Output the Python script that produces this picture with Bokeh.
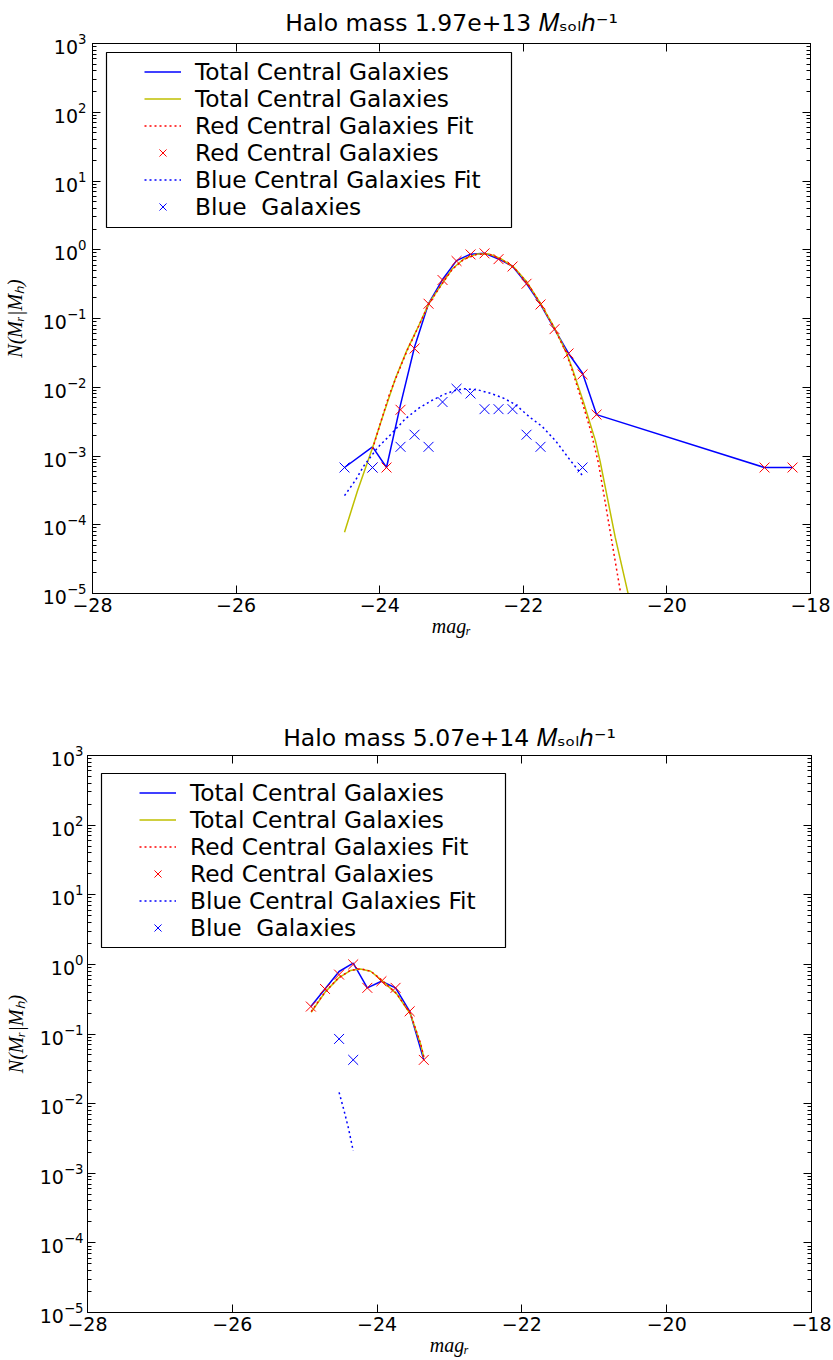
from bokeh.plotting import figure
from bokeh.models import (Range1d, LogAxis, LinearAxis, FixedTicker, Legend,
                          LegendItem, BoxAnnotation)
from bokeh.layouts import column
from bokeh.embed import file_html
from bokeh.resources import INLINE

# ---------------- shared axis ticks ----------------
x_ticks = [-28, -26, -24, -22, -20, -18]
x_tick_labels = ["\u221228", "\u221226", "\u221224", "\u221222", "\u221220", "\u221218"]
y_ticks = [1e-5, 1e-4, 1e-3, 1e-2, 1e-1, 1e0, 1e1, 1e2, 1e3]
legend_labels = ["Total Central Galaxies", "Total Central Galaxies",
                 "Red Central Galaxies Fit", "Red Central Galaxies",
                 "Blue Central Galaxies Fit", "Blue  Galaxies"]
x_label = "mag\u1d63"
y_label = "N(M\u1d63|M\u2095)"
unit_text = "\U0001D440\u209b\u2092\u2097\u210e\u207b\u00b9"

# ---------------- panel 1: halo mass 1.97e+13 ----------------
title1 = "Halo mass 1.97e+13"
tot1_x = [-24.49, -24.10, -23.905, -23.71, -23.515, -23.32, -23.125, -22.93, -22.735, -22.54,
          -22.345, -22.15, -21.955, -21.76, -21.565, -21.37, -21.175, -20.98, -18.64, -18.25]
tot1_y = [6.8e-4, 1.36e-3, 6.8e-4, 5.6e-3, 0.0385, 0.165, 0.369, 0.695, 0.863, 0.89,
          0.735, 0.575, 0.322, 0.161, 0.070, 0.031, 0.016, 0.0040, 6.8e-4, 6.8e-4]
totfit1_x = [-24.49, -24.31, -24.10, -23.94, -23.78, -23.62, -23.455, -23.315, -23.15, -22.99,
             -22.83, -22.64, -22.48, -22.32, -22.13, -21.95, -21.76, -21.575, -21.41, -21.32,
             -21.16, -20.995, -20.925, -20.83, -20.72, -20.545, -20.50]
totfit1_y = [7.8e-5, 3.1e-4, 1.32e-3, 4.3e-3, 0.0135, 0.0347, 0.079, 0.166, 0.30, 0.525,
             0.733, 0.87, 0.87, 0.75, 0.556, 0.339, 0.166, 0.0759, 0.0339, 0.019,
             6.0e-3, 1.66e-3, 7.9e-4, 2.5e-4, 6.6e-5, 1.05e-5, 6.3e-6]
redfit1_x = [-24.10, -23.99, -23.87, -23.78, -23.62, -23.455, -23.315, -23.15, -22.99, -22.83,
             -22.64, -22.48, -22.32, -22.13, -21.95, -21.76, -21.575, -21.41, -21.32, -21.16,
             -21.06, -20.95, -20.855, -20.76, -20.65, -20.62]
redfit1_y = [1.26e-3, 3.0e-3, 7.6e-3, 0.0132, 0.0339, 0.0785, 0.164, 0.299, 0.519, 0.724,
             0.861, 0.861, 0.741, 0.55, 0.335, 0.164, 0.075, 0.0331, 0.0178, 5.2e-3,
             2.3e-3, 7.6e-4, 2.0e-4, 5.2e-5, 1.1e-5, 7.6e-6]
red1_x = [-24.10, -23.905, -23.71, -23.515, -23.32, -23.125, -22.93, -22.735, -22.54, -22.345,
          -22.15, -21.955, -21.76, -21.565, -21.37, -21.175, -20.98, -18.64, -18.25]
red1_y = [6.8e-4, 6.8e-4, 4.7e-3, 0.0365, 0.164, 0.363, 0.686, 0.855, 0.885, 0.73,
          0.57, 0.32, 0.16, 0.070, 0.031, 0.0154, 0.0040, 6.8e-4, 6.8e-4]
bluefit1_x = [-24.49, -24.34, -24.22, -24.03, -23.85, -23.64, -23.45, -23.29, -23.10, -22.95,
              -22.83, -22.64, -22.46, -22.27, -22.11, -21.90, -21.74, -21.55, -21.34, -21.17]
bluefit1_y = [2.65e-4, 4.4e-4, 7.2e-4, 1.32e-3, 2.04e-3, 3.5e-3, 5.0e-3, 6.3e-3, 7.9e-3, 9.0e-3,
              9.5e-3, 9.2e-3, 8.2e-3, 6.9e-3, 5.6e-3, 3.6e-3, 2.7e-3, 1.66e-3, 8.5e-4, 5.1e-4]
blue1_x = [-24.49, -24.10, -23.71, -23.515, -23.32, -23.125, -22.93, -22.735, -22.54, -22.345,
           -22.15, -21.955, -21.76, -21.175]
blue1_y = [6.8e-4, 6.8e-4, 1.36e-3, 2.04e-3, 1.36e-3, 6.1e-3, 9.5e-3, 8.1e-3, 4.8e-3, 4.8e-3,
           4.8e-3, 2.04e-3, 1.36e-3, 6.8e-4]

# ---------------- panel 2: halo mass 5.07e+14 ----------------
title2 = "Halo mass 5.07e+14"
tot2_x = [-24.915, -24.72, -24.525, -24.33, -24.135, -23.94, -23.745, -23.55, -23.355]
tot2_y = [0.248, 0.444, 0.79, 1.04, 0.46, 0.572, 0.46, 0.212, 0.0425]
totfit2_x = [-24.91, -24.72, -24.53, -24.37, -24.23, -24.09, -23.96, -23.73, -23.54, -23.40, -23.355]
totfit2_y = [0.205, 0.397, 0.64, 0.815, 0.86, 0.796, 0.62, 0.377, 0.194, 0.072, 0.046]
redfit2_x = [-24.91, -24.72, -24.53, -24.37, -24.23, -24.09, -23.96, -23.73, -23.54, -23.40, -23.355]
redfit2_y = [0.21, 0.40, 0.645, 0.82, 0.865, 0.80, 0.625, 0.38, 0.196, 0.073, 0.047]
red2_x = [-24.915, -24.72, -24.525, -24.33, -24.135, -23.94, -23.745, -23.55, -23.355]
red2_y = [0.248, 0.444, 0.713, 1.0, 0.46, 0.572, 0.46, 0.212, 0.0425]
bluefit2_x = [-24.525, -24.46, -24.395, -24.33]
bluefit2_y = [0.0145, 0.0082, 0.0044, 0.0021]
blue2_x = [-24.525, -24.33]
blue2_y = [0.085, 0.0425]

BLUE = "#0000ff"
YELLOW = "#bfbf00"
RED = "#ff0000"


def build(title_text, frame_left_px, frame_top_px, frame_right_px, frame_bottom_px,
          fig_top_px, fig_h, legend_box, legend_top, lab_standoffs, title_standoff,
          tx, ty, fx, fy, rfx, rfy, rx, ry, bfx, bfy, bx, by):
    W = 833
    frame_h = frame_bottom_px - frame_top_px
    p = figure(width=W, height=fig_h, output_backend="svg", toolbar_location=None,
               x_range=Range1d(-28, -18), y_range=Range1d(1e-5, 1e3), y_axis_type="log",
               min_border_left=frame_left_px, min_border_right=W - frame_right_px,
               min_border_top=frame_top_px - fig_top_px,
               min_border_bottom=fig_top_px + fig_h - frame_bottom_px,
               title=title_text + " " + unit_text)
    p.title.text_font = "DejaVu Sans"
    p.title.text_font_size = "23.5px"
    p.title.text_font_style = "normal"
    p.title.text_color = "black"
    p.title.align = "center"
    p.title.standoff = title_standoff
    p.background_fill_color = "white"
    p.border_fill_color = "white"
    p.outline_line_color = "black"
    p.outline_line_width = 1
    p.xgrid.visible = False
    p.ygrid.visible = False

    minor = [m * 10.0 ** e for e in range(-5, 3) for m in range(2, 10)]
    xt = FixedTicker(ticks=x_ticks)
    yt = FixedTicker(ticks=y_ticks, minor_ticks=minor)

    xa = p.xaxis[0]
    xa.ticker = xt
    xa.major_label_overrides = {t: l for t, l in zip(x_ticks, x_tick_labels)}
    ya = p.yaxis[0]
    ya.ticker = yt
    for ax in (xa, ya):
        ax.major_tick_in = 8
        ax.major_tick_out = 0
        ax.minor_tick_in = 4
        ax.minor_tick_out = 0
        ax.axis_line_color = "black"
        ax.major_label_text_font = "DejaVu Sans"
        ax.major_label_text_font_size = "19px"
        ax.major_label_text_color = "black"
        ax.axis_label_text_font = "Liberation Serif"
        ax.axis_label_text_font_style = "italic"
        ax.axis_label_text_font_size = "20px"
        ax.axis_label_text_color = "black"
    xa.minor_tick_in = 0
    xa.major_label_standoff = 4
    xa.axis_label = x_label
    xa.axis_label_standoff = 0
    ya.major_label_standoff = lab_standoffs[0]
    ya.axis_label = y_label
    ya.axis_label_standoff = lab_standoffs[1]

    ra = LogAxis(ticker=yt, major_label_overrides={t: "" for t in y_ticks},
                 major_label_standoff=0,
                 major_tick_in=8, major_tick_out=0, minor_tick_in=4, minor_tick_out=0)
    p.add_layout(ra, "right")
    ta = LinearAxis(ticker=xt, major_label_overrides={t: "" for t in x_ticks},
                    major_label_standoff=0,
                    major_tick_in=8, major_tick_out=0, minor_tick_in=0, minor_tick_out=0)
    p.add_layout(ta, "above")

    r_tot = p.line(tx, ty, line_color=BLUE, line_width=1.5)
    r_fit = p.line(fx, fy, line_color=YELLOW, line_width=1.5)
    r_rfit = p.line(rfx, rfy, line_color=RED, line_width=1.5, line_dash="2 3")
    r_red = p.scatter(rx, ry, marker="x", size=14, line_color=RED, line_width=1)
    r_bfit = p.line(bfx, bfy, line_color=BLUE, line_width=1.5, line_dash="2 3")
    r_blue = p.scatter(bx, by, marker="x", size=14, line_color=BLUE, line_width=1)

    rends = [r_tot, r_fit, r_rfit, r_red, r_bfit, r_blue]
    items = [LegendItem(label=l, renderers=[r]) for l, r in zip(legend_labels, rends)]
    legend_h = 6 * 27
    lg = Legend(items=items, location=(52, frame_h - legend_top - legend_h),
                padding=0, spacing=0, margin=0, glyph_width=37, glyph_height=25,
                label_height=25, label_standoff=14, label_text_font="DejaVu Sans",
                label_text_font_size="23.3px", label_text_color="black",
                border_line_alpha=0, background_fill_alpha=0)
    p.add_layout(lg, "center")
    bl, br, bt, bb = legend_box
    p.add_layout(BoxAnnotation(left=bl, right=br, top=frame_h - bt, bottom=frame_h - bb,
                               left_units="screen", right_units="screen",
                               top_units="screen", bottom_units="screen",
                               fill_alpha=0, line_color="black", line_alpha=1,
                               line_width=1.2))
    return p


p1 = build(title1, 92, 40, 810, 593, 0, 680, (14, 419, 12, 187), 18.2, (6, 14), 13,
           tot1_x, tot1_y, totfit1_x, totfit1_y, redfit1_x, redfit1_y,
           red1_x, red1_y, bluefit1_x, bluefit1_y, blue1_x, blue1_y)
p2 = build(title2, 87, 755, 811, 1312, 680, 680, (14, 418, 18, 192), 24.4, (4, 10), 7,
           tot2_x, tot2_y, totfit2_x, totfit2_y, redfit2_x, redfit2_y,
           red2_x, red2_y, bluefit2_x, bluefit2_y, blue2_x, blue2_y)

layout = column(column(p1), column(p2), spacing=0)
open("out.html", "w").write(file_html(layout, INLINE))
